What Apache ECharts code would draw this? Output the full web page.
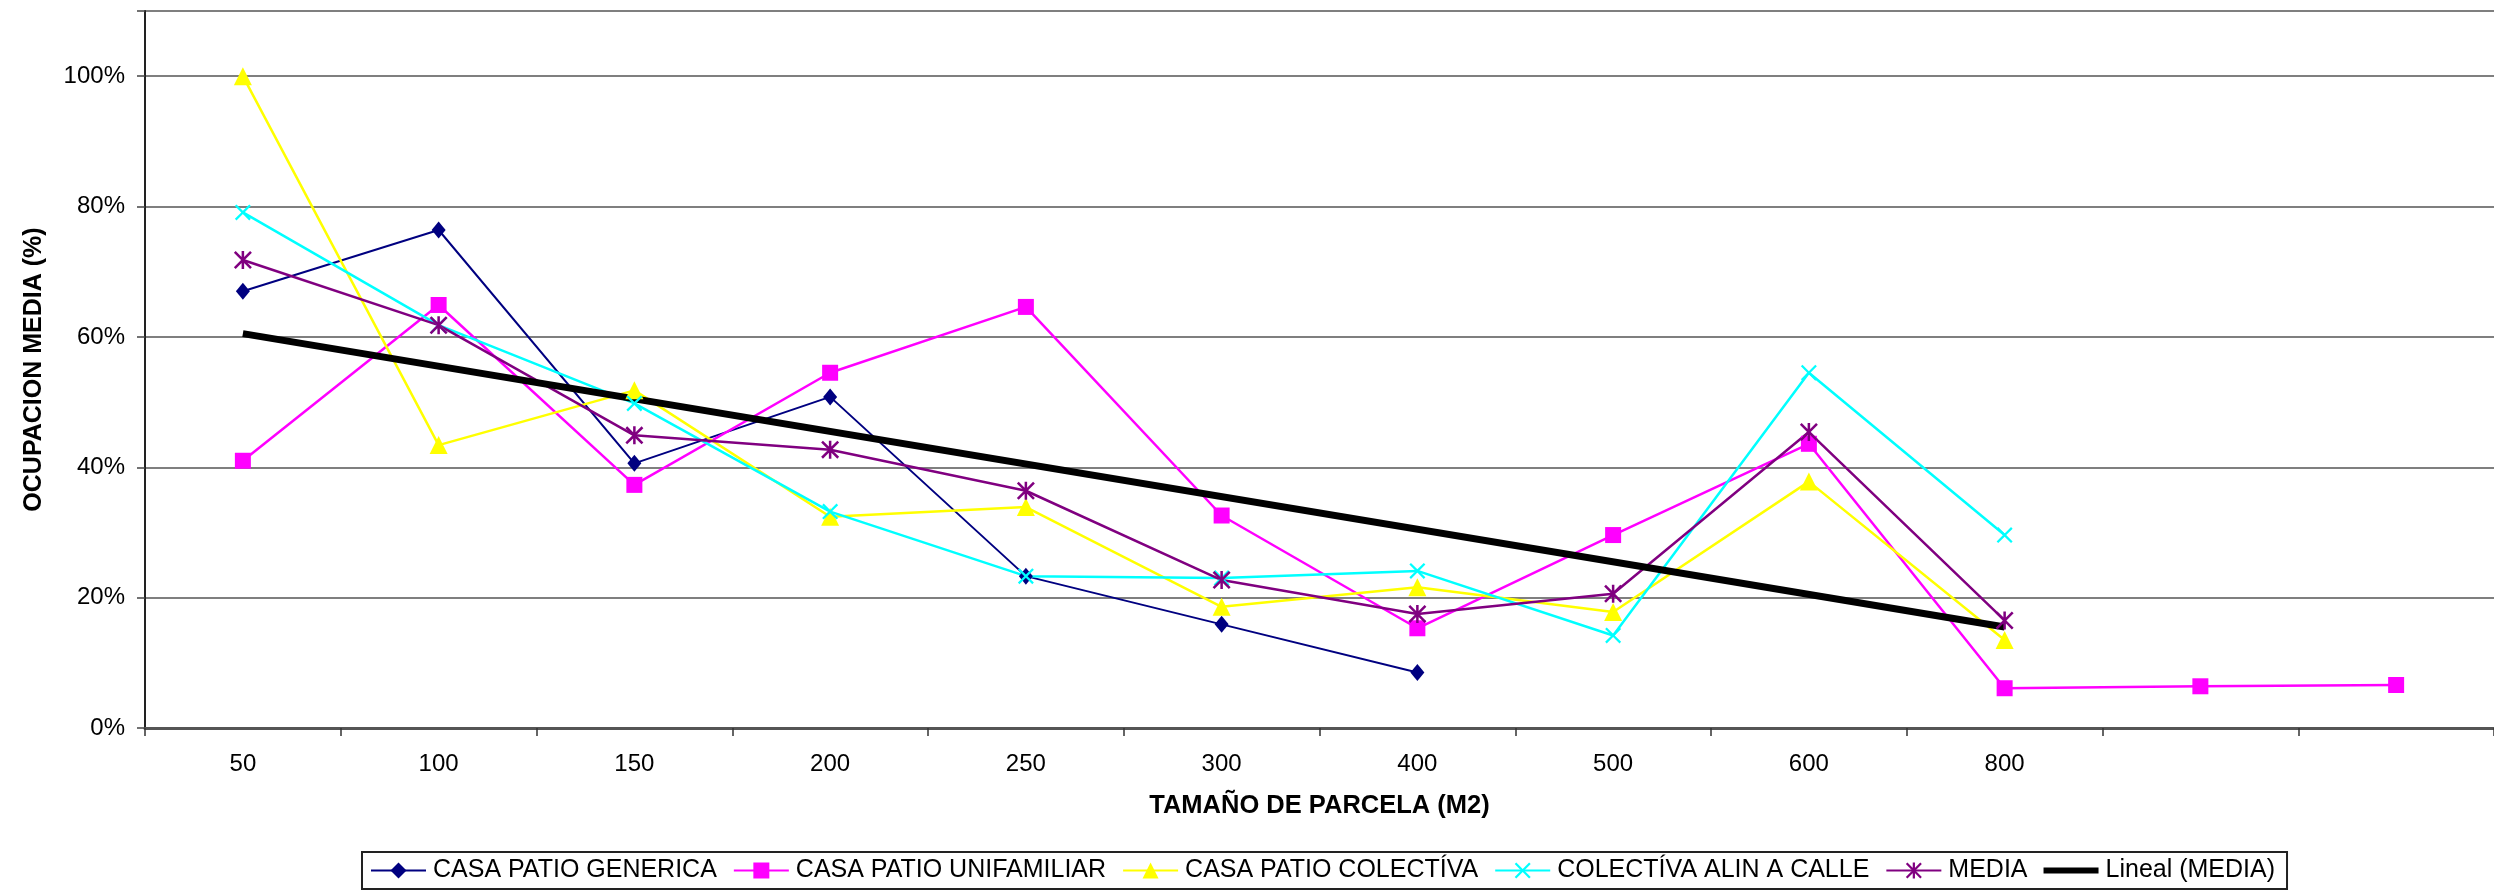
<!DOCTYPE html>
<html>
<head>
<meta charset="utf-8">
<script src="https://cdn.jsdelivr.net/npm/echarts@6/dist/echarts.min.js"></script>
<style>
html,body{margin:0;padding:0;background:#fff;}
#chart{width:2494px;height:891px;}
</style>
</head>
<body>
<div id="chart"></div>
<script>
// ---- data ----
const categories = ['50','100','150','200','250','300','400','500','600','800','',' '];
const genericaValues    = [0.670,0.764,0.406,0.508,0.233,0.159,0.085,null,null,null,null,null];
const unifamiliarValues = [0.410,0.649,0.373,0.545,0.646,0.326,0.153,0.296,0.436,0.061,0.064,0.066];
const colectivaValues   = [1.000,0.434,0.518,0.324,0.339,0.186,0.216,0.178,0.378,0.135,null,null];
const alinValues        = [0.791,0.618,0.498,0.332,0.233,0.230,0.241,0.142,0.545,0.296,null,null];
const mediaValues       = [0.718,0.618,0.449,0.427,0.364,0.227,0.175,0.206,0.454,0.165,null,null];
const trendValues       = [0.605,null,null,null,null,null,null,null,null,0.155,null,null];
const seriesNames = ['CASA PATIO GENERICA','CASA PATIO UNIFAMILIAR','CASA PATIO COLECTÍVA','COLECTÍVA ALIN A CALLE','MEDIA','Lineal (MEDIA)'];

const FONT = "'Liberation Sans', Arial, sans-serif";
const X_PATH = 'path://M0,1L1,0L5,4L9,0L10,1L6,5L10,9L9,10L5,6L1,10L0,9L4,5Z';
const STAR_PATH = 'path://M0,1L1,0L5,4L9,0L10,1L6,5L10,9L9,10L5,6L1,10L0,9L4,5ZM4.3,0L5.7,0L5.7,10L4.3,10Z';

function lineSeries(name, data, color, symbol, size, width) {
  return {
    name: name, type: 'line', data: data,
    symbol: symbol, symbolSize: size,
    lineStyle: {color: color, width: width},
    itemStyle: {color: color},
    emphasis: {disabled: true},
    connectNulls: false
  };
}

const chart = echarts.init(document.getElementById('chart'));
chart.setOption({
  animation: false,
  backgroundColor: '#ffffff',
  grid: {left: 145, top: 11, width: 2354, height: 717, containLabel: false},
  xAxis: {
    type: 'category',
    data: categories,
    boundaryGap: true,
    name: 'TAMAÑO DE PARCELA (M2)',
    nameLocation: 'middle',
    nameGap: 65,
    nameTextStyle: {fontFamily: FONT, fontSize: 25.5, fontWeight: 'bold', color: '#000'},
    axisLine: {lineStyle: {color: '#555', width: 3}},
    axisTick: {show: true, length: 8, lineStyle: {color: '#333', width: 1.5}},
    axisLabel: {fontFamily: FONT, fontSize: 24, color: '#000', margin: 24, interval: 0},
    splitLine: {show: false}
  },
  yAxis: {
    type: 'value',
    min: 0, max: 1.1, interval: 0.2,
    name: 'OCUPACION MEDIA (%)',
    nameLocation: 'middle',
    nameGap: 98,
    nameTextStyle: {fontFamily: FONT, fontSize: 25, fontWeight: 'bold', color: '#000'},
    axisLine: {show: true, lineStyle: {color: '#222', width: 2}},
    axisTick: {show: true, length: 8, lineStyle: {color: '#444', width: 1.5}},
    axisLabel: {
      fontFamily: FONT, fontSize: 24, color: '#000', margin: 20,
      formatter: function (v) { return v > 1.05 ? '' : Math.round(v * 100) + '%'; }
    },
    splitLine: {show: true, lineStyle: {color: '#555', width: 1.5}}
  },
  legend: {
    left: 362, top: 852,
    orient: 'horizontal',
    padding: [6, 12, 6, 8],
    itemGap: 16,
    itemWidth: 55, itemHeight: 20,
    borderColor: '#222', borderWidth: 2,
    textStyle: {fontFamily: FONT, fontSize: 25, color: '#000', padding: [0, 0, 0, 2]},
    data: [
      {name: seriesNames[0]},
      {name: seriesNames[1]},
      {name: seriesNames[2]},
      {name: seriesNames[3]},
      {name: seriesNames[4]},
      {name: seriesNames[5], icon: 'path://M0,0L55,0L55,6L0,6Z'}
    ]
  },
  series: [
    lineSeries(seriesNames[0], genericaValues, '#000080', 'diamond', [14, 17], 2),
    lineSeries(seriesNames[1], unifamiliarValues, '#FF00FF', 'rect', 16, 2.5),
    lineSeries(seriesNames[2], colectivaValues, '#FFFF00', 'triangle', 18, 2.5),
    lineSeries(seriesNames[3], alinValues, '#00FFFF', X_PATH, 16, 2.5),
    lineSeries(seriesNames[4], mediaValues, '#800080', STAR_PATH, 18, 2.5),
    {
      name: seriesNames[5], type: 'line', data: trendValues,
      connectNulls: true, symbol: 'none',
      lineStyle: {color: '#000', width: 7},
      itemStyle: {color: '#000'},
      emphasis: {disabled: true}
    }
  ]
});
</script>
</body>
</html>
